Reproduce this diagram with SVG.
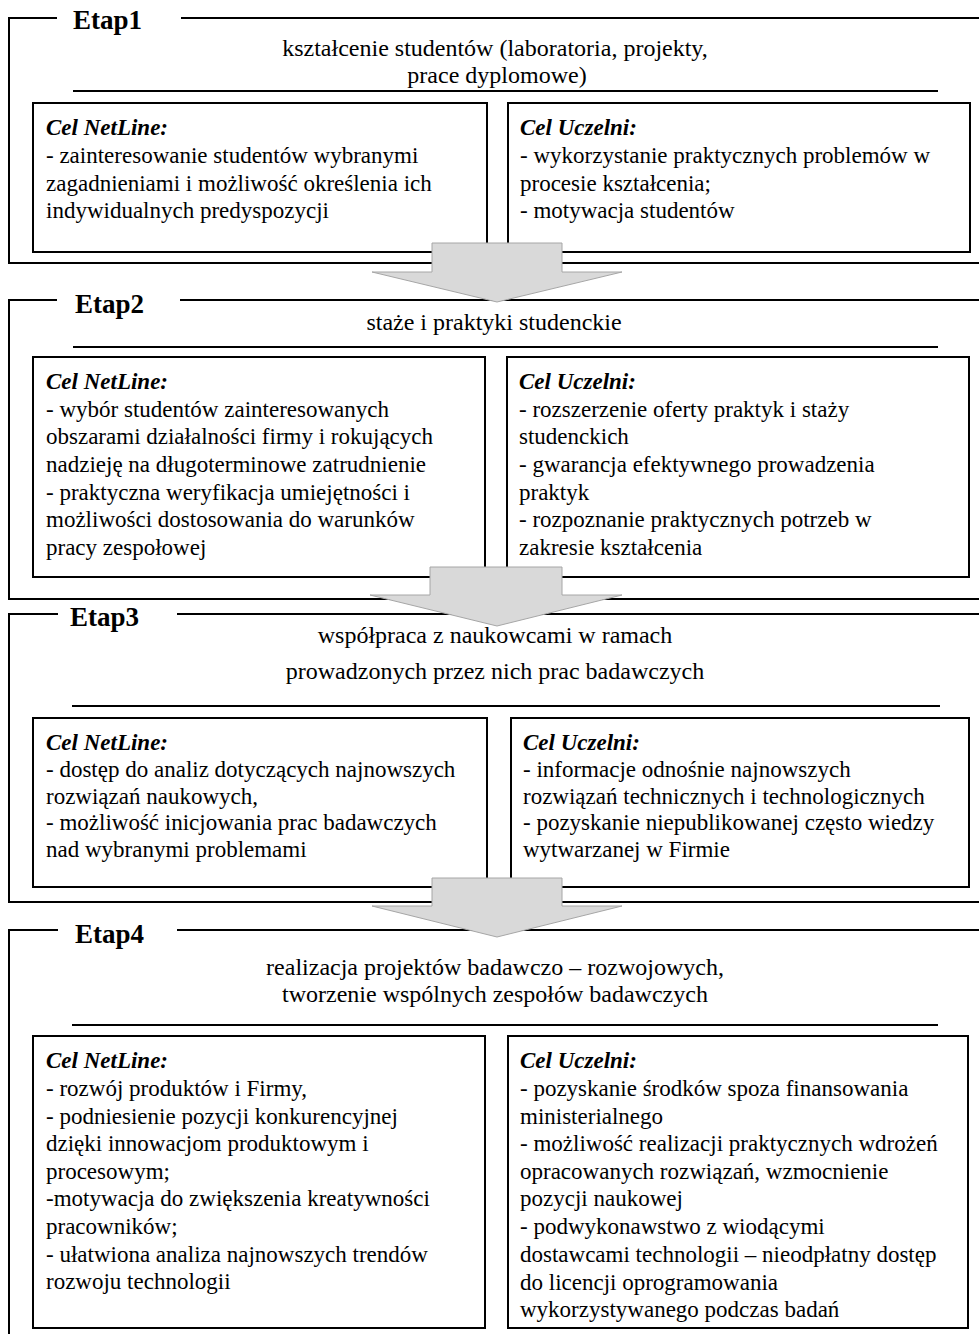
<svg xmlns="http://www.w3.org/2000/svg" width="979" height="1334" viewBox="0 0 979 1334">
<style>
.frame{fill:none;stroke:#000;stroke-width:2}
.box{fill:#fff;stroke:#000;stroke-width:2}
.rule{stroke:#000;stroke-width:2}
text{font-family:"Liberation Serif","Times New Roman",serif;fill:#000}
.lbl{font-size:27px;font-weight:bold}
.hd{font-size:24px;text-anchor:middle}
.t{font-size:23px}
.cel{font-size:23px;font-weight:bold;font-style:italic}
.arrow{fill:#d9d9d9;stroke:#a6a6a6;stroke-width:1}
</style>
<rect width="979" height="1334" fill="#fff"/>

<g id="etap1">
<polyline class="frame" points="57,18 9,18 9,263 981,263"/>
<line class="rule" x1="181" y1="18" x2="981" y2="18"/>
<text class="lbl" x="73" y="29">Etap1</text>
<text class="hd" x="495" y="56">kształcenie studentów (laboratoria, projekty,</text>
<text class="hd" x="497" y="83">prace dyplomowe)</text>
<line class="rule" x1="73" y1="91" x2="938" y2="91"/>
<g id="etap1-netline">
<rect class="box" x="33" y="103" width="454" height="149"/>
<text class="cel" x="46" y="135">Cel NetLine:</text>
<text class="t" x="46" y="163">- zainteresowanie studentów wybranymi</text>
<text class="t" x="46" y="191">zagadnieniami i możliwość określenia ich</text>
<text class="t" x="46" y="218">indywidualnych predyspozycji</text>
</g>
<g id="etap1-uczelnia">
<rect class="box" x="508" y="103" width="462" height="149"/>
<text class="cel" x="520" y="135">Cel Uczelni:</text>
<text class="t" x="520" y="163">- wykorzystanie praktycznych problemów w</text>
<text class="t" x="520" y="191">procesie kształcenia;</text>
<text class="t" x="520" y="218">- motywacja studentów</text>
</g>
</g>

<g id="etap2">
<polyline class="frame" points="57,300 9,300 9,599 981,599"/>
<line class="rule" x1="180" y1="300" x2="981" y2="300"/>
<text class="lbl" x="75" y="313">Etap2</text>
<text class="hd" x="494" y="330">staże i praktyki studenckie</text>
<line class="rule" x1="73" y1="347" x2="938" y2="347"/>
<g id="etap2-netline">
<rect class="box" x="33" y="357" width="452" height="220"/>
<text class="cel" x="46" y="389">Cel NetLine:</text>
<text class="t" x="46" y="417">- wybór studentów zainteresowanych</text>
<text class="t" x="46" y="444">obszarami działalności firmy i rokujących</text>
<text class="t" x="46" y="472">nadzieję na długoterminowe zatrudnienie</text>
<text class="t" x="46" y="500">- praktyczna weryfikacja umiejętności i</text>
<text class="t" x="46" y="527">możliwości dostosowania do warunków</text>
<text class="t" x="46" y="555">pracy zespołowej</text>
</g>
<g id="etap2-uczelnia">
<rect class="box" x="507" y="357" width="462" height="220"/>
<text class="cel" x="519" y="389">Cel Uczelni:</text>
<text class="t" x="519" y="417">- rozszerzenie oferty praktyk i staży</text>
<text class="t" x="519" y="444">studenckich</text>
<text class="t" x="519" y="472">- gwarancja efektywnego prowadzenia</text>
<text class="t" x="519" y="500">praktyk</text>
<text class="t" x="519" y="527">- rozpoznanie praktycznych potrzeb w</text>
<text class="t" x="519" y="555">zakresie kształcenia</text>
</g>
</g>

<g id="etap3">
<polyline class="frame" points="58,614 9,614 9,902 981,902"/>
<line class="rule" x1="177" y1="614" x2="981" y2="614"/>
<text class="lbl" x="70" y="626">Etap3</text>
<text class="hd" x="495" y="643">współpraca z naukowcami w ramach</text>
<text class="hd" x="495" y="679">prowadzonych przez nich prac badawczych</text>
<line class="rule" x1="72" y1="706" x2="940" y2="706"/>
<g id="etap3-netline">
<rect class="box" x="33" y="718" width="454" height="169"/>
<text class="cel" x="46" y="750">Cel NetLine:</text>
<text class="t" x="46" y="777">- dostęp do analiz dotyczących najnowszych</text>
<text class="t" x="46" y="804">rozwiązań naukowych,</text>
<text class="t" x="46" y="830">- możliwość inicjowania prac badawczych</text>
<text class="t" x="46" y="857">nad wybranymi problemami</text>
</g>
<g id="etap3-uczelnia">
<rect class="box" x="511" y="718" width="458" height="169"/>
<text class="cel" x="523" y="750">Cel Uczelni:</text>
<text class="t" x="523" y="777">- informacje odnośnie najnowszych</text>
<text class="t" x="523" y="804">rozwiązań technicznych i technologicznych</text>
<text class="t" x="523" y="830">- pozyskanie niepublikowanej często wiedzy</text>
<text class="t" x="523" y="857">wytwarzanej w Firmie</text>
</g>
</g>

<g id="etap4">
<polyline class="frame" points="58,930 9,930 9,1340"/>
<line class="rule" x1="177" y1="930" x2="981" y2="930"/>
<text class="lbl" x="75" y="943">Etap4</text>
<text class="hd" x="495" y="975">realizacja projektów badawczo – rozwojowych,</text>
<text class="hd" x="495" y="1002">tworzenie wspólnych zespołów badawczych</text>
<line class="rule" x1="72" y1="1025" x2="938" y2="1025"/>
<g id="etap4-netline">
<rect class="box" x="33" y="1036" width="452" height="292"/>
<text class="cel" x="46" y="1068">Cel NetLine:</text>
<text class="t" x="46" y="1096">- rozwój produktów i Firmy,</text>
<text class="t" x="46" y="1124">- podniesienie pozycji konkurencyjnej</text>
<text class="t" x="46" y="1151">dzięki innowacjom produktowym i</text>
<text class="t" x="46" y="1179">procesowym;</text>
<text class="t" x="46" y="1206">-motywacja do zwiększenia kreatywności</text>
<text class="t" x="46" y="1234">pracowników;</text>
<text class="t" x="46" y="1262">- ułatwiona analiza najnowszych trendów</text>
<text class="t" x="46" y="1289">rozwoju technologii</text>
</g>
<g id="etap4-uczelnia">
<rect class="box" x="508" y="1036" width="460" height="292"/>
<text class="cel" x="520" y="1068">Cel Uczelni:</text>
<text class="t" x="520" y="1096">- pozyskanie środków spoza finansowania</text>
<text class="t" x="520" y="1124">ministerialnego</text>
<text class="t" x="520" y="1151">- możliwość realizacji praktycznych wdrożeń</text>
<text class="t" x="520" y="1179">opracowanych rozwiązań, wzmocnienie</text>
<text class="t" x="520" y="1206">pozycji naukowej</text>
<text class="t" x="520" y="1234">- podwykonawstwo z wiodącymi</text>
<text class="t" x="520" y="1262">dostawcami technologii – nieodpłatny dostęp</text>
<text class="t" x="520" y="1290">do licencji oprogramowania</text>
<text class="t" x="520" y="1317">wykorzystywanego podczas badań</text>
</g>
</g>

<g id="connectors">
<polygon class="arrow" points="432,243 562,243 562,272 622,272 497,302 372,272 432,272"/>
<polygon class="arrow" points="430,567 562,567 562,595 622,595 497,626 370,595 430,595"/>
<polygon class="arrow" points="432,878 562,878 562,906 622,906 497,937 372,906 432,906"/>
</g>
</svg>
